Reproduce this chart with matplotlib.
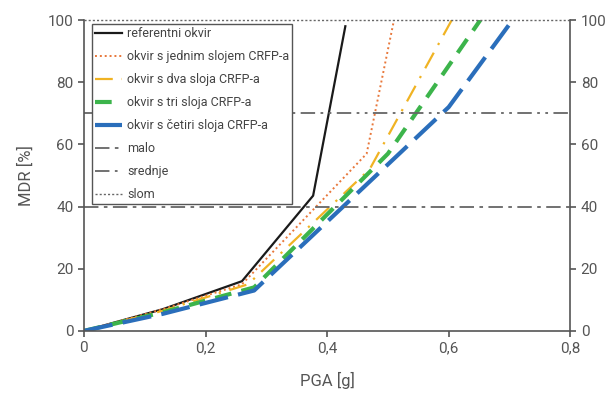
import matplotlib
matplotlib.use('Agg')
import matplotlib.pyplot as plt
from matplotlib.ticker import FuncFormatter

plt.rcParams['font.family'] = ['Roboto', 'DejaVu Sans']

# PGA [g] vs MDR [%] for each frame
pga_ref = [0, 0.13, 0.26, 0.377, 0.43]
mdr_ref = [0, 7, 16, 43.5, 98]
pga_1 = [0, 0.13, 0.26, 0.465, 0.51]
mdr_1 = [0, 7, 15, 57, 100]
pga_2 = [0, 0.13, 0.27, 0.47, 0.605]
mdr_2 = [0, 6.5, 15, 52, 100]
pga_3 = [0, 0.13, 0.28, 0.50, 0.652]
mdr_3 = [0, 6, 14, 57, 100]
pga_4 = [0, 0.13, 0.28, 0.60, 0.705]
mdr_4 = [0, 5.5, 13, 72, 100]

# damage state thresholds
lvl_malo = 40
lvl_srednje = 70
lvl_slom = 100

fig = plt.figure(figsize=(6.08, 3.93), dpi=100)
ax = fig.add_axes([0.138, 0.158, 0.8, 0.791])

ax.plot(pga_ref, mdr_ref, color='#1a1a1a', lw=1.6, label='referentni okvir')
ax.plot(pga_1, mdr_1, color='#e8773a', lw=1.4, ls=(0, (1, 1.5)), label='okvir s jednim slojem CRFP-a')
ax.plot(pga_2, mdr_2, color='#f0b323', lw=1.6, ls=(0, (8, 4, 1, 4)), label='okvir s dva sloja CRFP-a')
ax.plot(pga_3, mdr_3, color='#3cb44b', lw=3.0, ls=(0, (4, 2.5)), label='okvir s tri sloja CRFP-a')
ax.plot(pga_4, mdr_4, color='#2a6ebb', lw=3.0, ls=(0, (7, 2.5)), label='okvir s četiri sloja CRFP-a')

ax.axhline(lvl_malo, color='#666666', lw=1.3, ls=(0, (8, 3, 2, 3)), label='malo')
ax.axhline(lvl_srednje, color='#666666', lw=1.3, ls=(0, (8, 3, 1.5, 3, 1.5, 3)), label='srednje')
ax.axhline(lvl_slom, color='#666666', lw=1.0, ls=(0, (1.5, 1.5)), label='slom', clip_on=False)

ax.set_xlim(0, 0.8)
ax.set_ylim(0, 100)
ax.set_xticks([0, 0.2, 0.4, 0.6, 0.8])
ax.set_yticks([0, 20, 40, 60, 80, 100])
ax.xaxis.set_major_formatter(FuncFormatter(lambda v, p: ('%g' % round(v, 2)).replace('.', ',')))

ax.spines['top'].set_visible(False)
for s in ['left', 'right', 'bottom']:
    ax.spines[s].set_color('#555555')
    ax.spines[s].set_linewidth(1.2)

ax.tick_params(axis='both', colors='#555555', labelsize=11, length=4, width=1.2, direction='out')
ax.tick_params(axis='y', right=True, labelright=True)

ax.set_xlabel('PGA [g]', fontsize=12, color='#555555', labelpad=12)
ax.set_ylabel('MDR [%]', fontsize=12, color='#555555', labelpad=10)

leg = ax.legend(loc='upper left', bbox_to_anchor=(0.012, 0.995), fontsize=9, frameon=True,
                fancybox=False, edgecolor='#555555', handlelength=2.1, labelspacing=0.8,
                borderpad=0.25, handletextpad=0.45, borderaxespad=0.2, framealpha=1)
leg.get_frame().set_linewidth(1.0)
for t in leg.get_texts():
    t.set_color('#444444')

fig.savefig('out.png', dpi=100)
